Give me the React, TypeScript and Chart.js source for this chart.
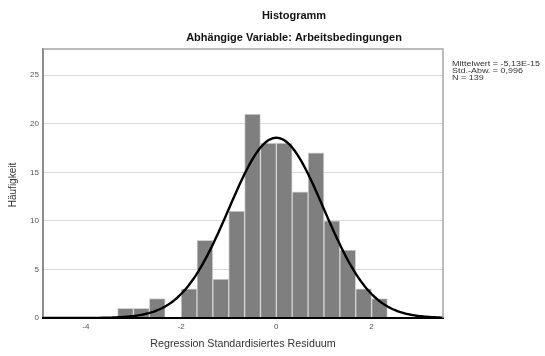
import React, { useEffect, useRef } from 'react';
import { Chart, registerables } from 'chart.js';

Chart.register(...registerables);

// Histogram of standardized residuals: bin midpoints (bin width 1/3) and frequencies
const binMids = [-3.1667, -2.8333, -2.5, -2.1667, -1.8333, -1.5, -1.1667, -0.8333, -0.5, -0.1667, 0.1667, 0.5, 0.8333, 1.1667, 1.5, 1.8333, 2.1667];
const counts = [1, 1, 2, 0, 3, 8, 4, 11, 21, 18, 18, 13, 17, 10, 7, 3, 2];
const binWidth = 1 / 3;

const xTicks = [-4, -2, 0, 2];
const yTicks = [0, 5, 10, 15, 20, 25];

// Summary statistics shown beside the plot; the normal curve uses them
const meanValue = -5.13e-15;
const stdDev = 0.996;
const nCases = 139;
const statLines = ['Mittelwert = -5,13E-15', 'Std.-Abw. = 0,996', 'N = 139'];

const titleText = 'Histogramm';
const subtitleText = 'Abhängige Variable: Arbeitsbedingungen';
const xTitleText = 'Regression Standardisiertes Residuum';
const yTitleText = 'Häufigkeit';

const X_MIN = -4.9;
const X_MAX = 3.5;
const Y_MAX = 27.7;

const FONT = '"Liberation Sans", Arial, Helvetica, sans-serif';

// Normal density scaled to the histogram (N * bin width)
function normalCurve() {
  const pts: { x: number; y: number }[] = [];
  const k = (nCases * binWidth) / (stdDev * Math.sqrt(2 * Math.PI));
  const steps = 240;
  for (let i = 0; i <= steps; i++) {
    const x = X_MIN + ((X_MAX - X_MIN) * i) / steps;
    const z = (x - meanValue) / stdDev;
    pts.push({ x, y: k * Math.exp(-0.5 * z * z) });
  }
  return pts;
}

const decorations = {
  id: 'decorations',
  afterDraw(chart: any) {
    const { ctx, chartArea: a } = chart;
    ctx.save();
    // top and right edges of the plot frame
    ctx.strokeStyle = '#a6a6a6';
    ctx.lineWidth = 1.5;
    ctx.beginPath();
    ctx.moveTo(a.left, a.top);
    ctx.lineTo(a.right, a.top);
    ctx.lineTo(a.right, a.bottom);
    ctx.stroke();

    // titles
    ctx.fillStyle = '#111';
    ctx.textAlign = 'center';
    ctx.textBaseline = 'middle';
    ctx.font = `bold 11px ${FONT}`;
    ctx.fillText(titleText, 294, 16);
    ctx.fillText(subtitleText, 294, 38);

    // axis titles
    ctx.fillStyle = '#333';
    ctx.font = `10.7px ${FONT}`;
    ctx.fillText(xTitleText, (a.left + a.right) / 2, 344);
    ctx.save();
    ctx.translate(13, 185);
    ctx.rotate(-Math.PI / 2);
    ctx.font = `10px ${FONT}`;
    ctx.fillText(yTitleText, 0, 0);
    ctx.restore();

    // statistics box
    ctx.fillStyle = '#333';
    ctx.textAlign = 'left';
    ctx.font = `7px ${FONT}`;
    statLines.forEach((line, i) => {
      ctx.save();
      ctx.translate(452, 64 + i * 7);
      ctx.scale(1.28, 1);
      ctx.fillText(line, 0, 0);
      ctx.restore();
    });
    ctx.restore();
  },
};

export default function App() {
  const canvasRef = useRef<HTMLCanvasElement | null>(null);

  useEffect(() => {
    const canvas = canvasRef.current;
    if (!canvas) return;
    const chart = new Chart(canvas, {
      type: 'bar',
      data: {
        datasets: [
          {
            type: 'line',
            data: normalCurve(),
            borderColor: '#000',
            borderWidth: 2.4,
            pointRadius: 0,
            tension: 0,
            order: 0,
          } as any,
          {
            type: 'bar',
            data: binMids.map((x, i) => ({ x, y: counts[i] })),
            backgroundColor: '#7f7f7f',
            borderColor: '#d4d4d4',
            borderWidth: 1,
            borderSkipped: 'bottom',
            barPercentage: 1,
            categoryPercentage: 1,
            order: 1,
          },
        ],
      },
      options: {
        responsive: false,
        animation: false,
        events: [],
        layout: { padding: { left: 0, top: 49, right: 102, bottom: 0 } },
        plugins: { legend: { display: false }, tooltip: { enabled: false }, title: { display: false } },
        scales: {
          x: {
            type: 'linear',
            min: X_MIN,
            max: X_MAX,
            offset: false,
            afterBuildTicks: (s: any) => {
              s.ticks = xTicks.map((v) => ({ value: v }));
            },
            afterFit: (s: any) => {
              s.height = 38;
            },
            grid: { display: false, drawTicks: false },
            border: { color: '#000', width: 2, z: 1 },
            ticks: {
              padding: 4,
              color: '#555',
              font: { family: FONT, size: 8 },
              maxRotation: 0,
              callback: (v: any) => String(v),
            },
          },
          y: {
            min: 0,
            max: Y_MAX,
            afterBuildTicks: (s: any) => {
              s.ticks = yTicks.map((v) => ({ value: v }));
            },
            afterFit: (s: any) => {
              s.width = 43;
            },
            grid: { color: '#d9d9d9', lineWidth: 1, drawTicks: false },
            border: { color: '#8c8c8c', width: 2 },
            ticks: {
              padding: 4,
              color: '#555',
              font: { family: FONT, size: 8 },
              callback: (v: any) => String(v),
            },
          },
        },
      },
      plugins: [decorations],
    });
    return () => chart.destroy();
  }, []);

  return (
    <div style={{ position: 'fixed', left: 0, top: 0, width: 545, height: 356, background: '#fff' }}>
      <canvas ref={canvasRef} width={545} height={356} />
    </div>
  );
}
